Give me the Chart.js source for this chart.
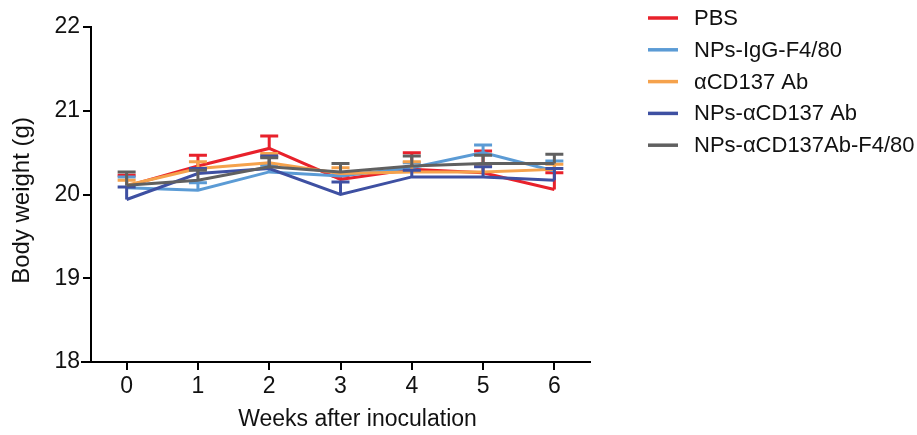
<!DOCTYPE html>
<html>
<head>
<meta charset="utf-8">
<script src="https://cdn.jsdelivr.net/npm/chart.js@4.4.0/dist/chart.umd.min.js"></script>
<style>
    html, body { margin: 0; padding: 0; background: #fff; }
    #grafik { width: 917px; height: 435px; }
</style>
</head>
<body>
<div id="grafik"><canvas id="lineChart"></canvas></div>
<script>
// Data (rata-rata dan panjang error bar ke atas)
var weeks = ['0', '1', '2', '3', '4', '5', '6'];
var yTicks = [18, 19, 20, 21, 22];

var namaSeri = ['PBS', 'NPs-IgG-F4/80', 'αCD137 Ab', 'NPs-αCD137 Ab', 'NPs-αCD137Ab-F4/80'];
var warnaSeri = ['#e8212b', '#5b9bd5', '#f5a24c', '#3e50a2', '#606060'];

var pbs        = [20.10, 20.34, 20.55, 20.18, 20.30, 20.26, 20.06];
var pbsErr     = [0.13, 0.13, 0.15, 0.04, 0.20, 0.26, 0.20];
var npsIgg     = [20.08, 20.05, 20.27, 20.22, 20.32, 20.50, 20.28];
var npsIggErr  = [0.13, 0.09, 0.08, 0.04, 0.06, 0.09, 0.12];
var cd137      = [20.11, 20.31, 20.38, 20.25, 20.27, 20.27, 20.30];
var cd137Err   = [0.06, 0.08, 0.11, 0.07, 0.12, 0.07, 0.06];
var npsCd137   = [19.94, 20.25, 20.31, 20.00, 20.21, 20.21, 20.17];
var npsCd137Err = [0.15, 0.06, 0.15, 0.15, 0.08, 0.12, 0.14];
var npsF480    = [20.11, 20.17, 20.33, 20.27, 20.34, 20.37, 20.37];
var npsF480Err = [0.16, 0.12, 0.11, 0.10, 0.12, 0.10, 0.11];

var nilaiSeri = [pbs, npsIgg, cd137, npsCd137, npsF480];
var errorSeri = [pbsErr, npsIggErr, cd137Err, npsCd137Err, npsF480Err];

var judulX = 'Weeks after inoculation';
var judulY = 'Body weight (g)';

var fontUtama = '"Liberation Sans", Arial, sans-serif';

// Error bar hanya ke atas, seperti di Prism
var errorBars = {
    id: 'errorBars',
    afterDatasetDraw: function(chart, args) {
        var ds = chart.data.datasets[args.index];
        var yScale = chart.scales.y;
        var ctx = chart.ctx;
        ctx.save();
        ctx.strokeStyle = ds.borderColor;
        ctx.lineWidth = 3;
        ctx.beginPath();
        args.meta.data.forEach(function(pt, j) {
            var atas = yScale.getPixelForValue(ds.data[j] + ds.errors[j]);
            ctx.moveTo(pt.x, pt.y);
            ctx.lineTo(pt.x, atas);
            ctx.moveTo(pt.x - 9, atas);
            ctx.lineTo(pt.x + 9, atas);
        });
        ctx.stroke();
        ctx.restore();
    }
};

// Legend di kanan dan judul sumbu, digambar manual
var legendKanan = {
    id: 'legendKanan',
    afterDraw: function(chart) {
        var ctx = chart.ctx;
        var area = chart.chartArea;
        var x0 = area.right + 58;
        ctx.save();
        ctx.font = '22px ' + fontUtama;
        ctx.textBaseline = 'middle';
        chart.data.datasets.forEach(function(ds, i) {
            var y = 18 + i * 31.8;
            ctx.strokeStyle = ds.borderColor;
            ctx.lineWidth = 3.5;
            ctx.beginPath();
            ctx.moveTo(x0, y);
            ctx.lineTo(x0 + 30, y);
            ctx.stroke();
            ctx.fillStyle = '#111';
            ctx.fillText(ds.label, x0 + 46, y + 1);
        });

        // judul sumbu (sedikit bergeser dari tengah, seperti aslinya)
        ctx.fillStyle = '#111';
        ctx.textAlign = 'center';
        ctx.font = '23px ' + fontUtama;
        ctx.fillText(judulX, (area.left + area.right) / 2 + 17, 420);
        ctx.save();
        ctx.translate(21, (area.top + area.bottom) / 2 + 6);
        ctx.rotate(-Math.PI / 2);
        ctx.font = '24px ' + fontUtama;
        ctx.fillText(judulY, 0, 1);
        ctx.restore();

        // sumbu x sedikit memanjang ke kiri
        ctx.strokeStyle = '#000';
        ctx.lineWidth = 2;
        ctx.beginPath();
        ctx.moveTo(area.left - 10, area.bottom);
        ctx.lineTo(area.left, area.bottom);
        ctx.stroke();
        ctx.restore();
    }
};

function createChart() {
    var ctx = document.getElementById('lineChart').getContext('2d');
    var datasets = nilaiSeri.map(function(vals, i) {
        return {
            label: namaSeri[i],
            data: vals,
            errors: errorSeri[i],
            borderColor: warnaSeri[i],
            backgroundColor: warnaSeri[i],
            borderWidth: 3,
            pointRadius: 0,
            tension: 0,
            order: namaSeri.length - 1 - i
        };
    });

    var myChart = new Chart(ctx, {
        type: 'line',
        data: {
            labels: weeks,
            datasets: datasets
        },
        options: {
            responsive: true,
            maintainAspectRatio: false,
            animation: false,
            layout: {
                padding: { left: 0, right: 327, top: 27, bottom: 0 }
            },
            scales: {
                x: {
                    offset: true,
                    grid: { display: true, drawOnChartArea: false, drawTicks: true, tickLength: 8, color: '#000', lineWidth: 2 },
                    border: { display: true, color: '#000', width: 2 },
                    ticks: { color: '#111', padding: 3, font: { family: fontUtama, size: 23 } },
                    title: { display: false },
                    afterFit: function(scale) { scale.height = 73; }
                },
                y: {
                    min: 18,
                    max: 22,
                    afterBuildTicks: function(scale) {
                        scale.ticks = yTicks.map(function(v) { return { value: v }; });
                    },
                    grid: { display: true, drawOnChartArea: false, drawTicks: true, tickLength: 8, color: '#000', lineWidth: 2 },
                    border: { display: true, color: '#000', width: 2 },
                    ticks: { color: '#111', padding: 3, font: { family: fontUtama, size: 23 } },
                    title: { display: false },
                    afterFit: function(scale) { scale.width = 91; }
                }
            },
            plugins: {
                legend: { display: false },
                tooltip: { enabled: false }
            }
        },
        plugins: [errorBars, legendKanan]
    });
    return myChart;
}

createChart();
</script>
</body>
</html>
